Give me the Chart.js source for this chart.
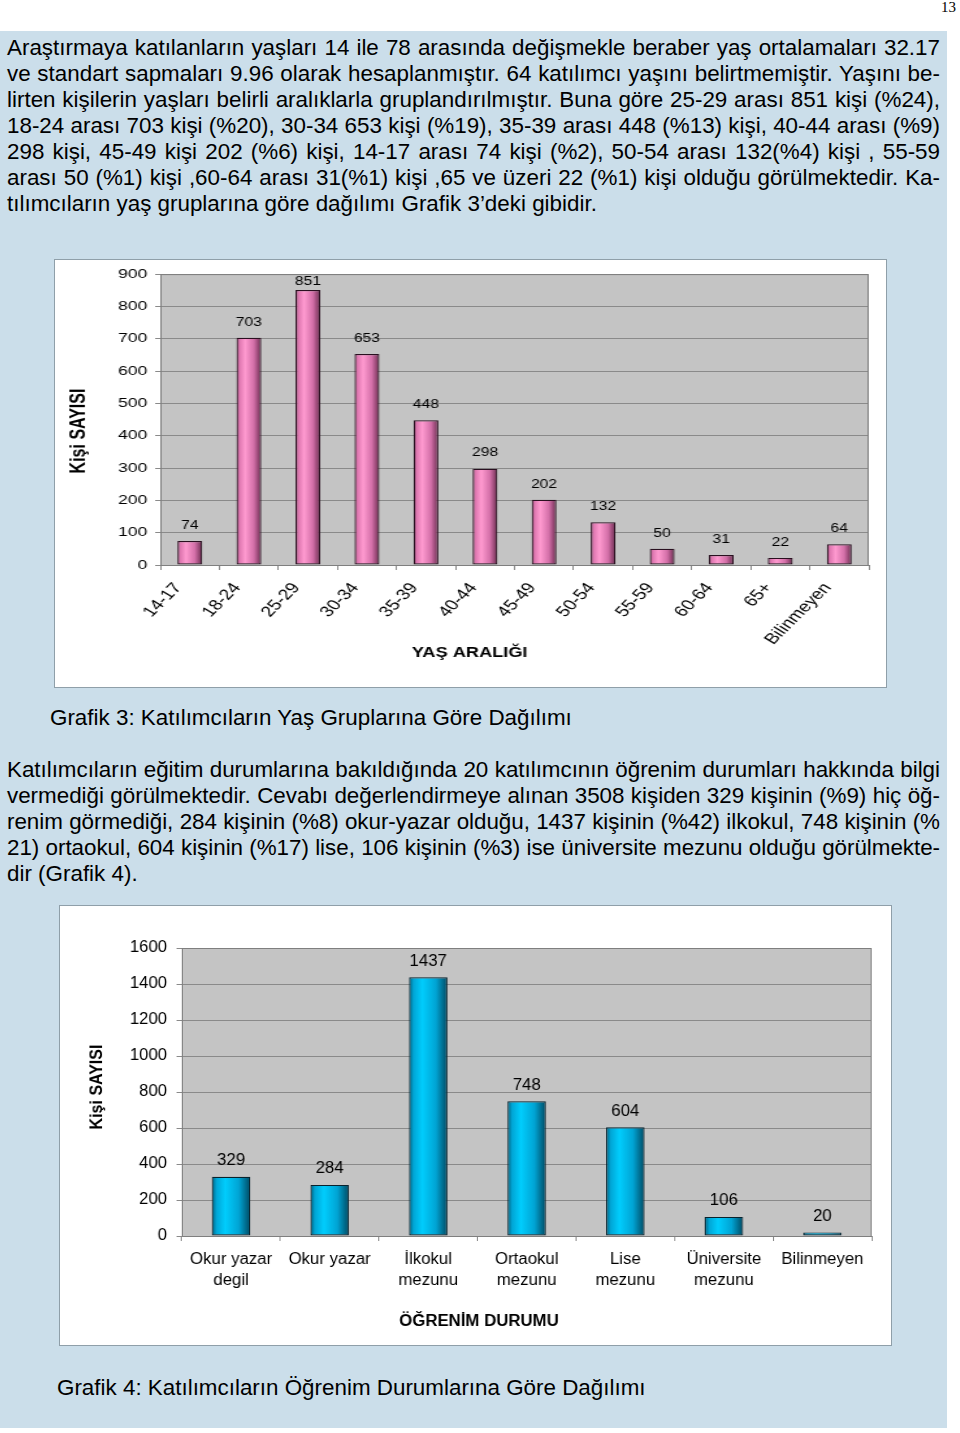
<!DOCTYPE html>
<html lang="tr">
<head>
<meta charset="utf-8">
<title>Grafik 3 ve Grafik 4</title>
<script src="https://cdn.jsdelivr.net/npm/chart.js@4.4.0/dist/chart.umd.min.js"></script>
<style>
  html, body { margin: 0; padding: 0; background: #fff; }
  body { width: 960px; height: 1433px; position: relative; overflow: hidden;
         font-family: "Liberation Sans", Arial, sans-serif; color: #000; }
  .pageNo { position: absolute; left: 941px; top: -1px; font-family: "Liberation Serif", serif; font-size: 15px; }
  .panel { position: absolute; left: 0; top: 31px; width: 947px; height: 1397px; background: #cbdeea; }
  .txt { position: absolute; left: 7px; width: 933px; font-size: 22.4px; line-height: 26px; }
  .txt div { text-align: justify; text-align-last: justify; white-space: nowrap; }
  .txt div.last { text-align-last: left; }
  .cap { position: absolute; font-size: 22.4px; line-height: 26px; white-space: nowrap; }
  .box { position: absolute; background: #fff; border: 1px solid #8f9fa9; }
  canvas { position: absolute; transform-origin: 0 0; }
  #meter { position: absolute; left: -2000px; top: 0; white-space: nowrap; font-size: 22.4px; }
</style>
</head>
<body>
<div class="pageNo">13</div>
<div class="panel"></div>

<div class="txt" style="top:35px">
  <div>Araştırmaya katılanların yaşları 14 ile 78 arasında değişmekle beraber yaş ortalamaları 32.17</div>
  <div>ve standart sapmaları 9.96 olarak hesaplanmıştır. 64 katılımcı yaşını belirtmemiştir. Yaşını be-</div>
  <div>lirten kişilerin yaşları belirli aralıklarla gruplandırılmıştır. Buna göre 25-29 arası 851 kişi (%24),</div>
  <div>18-24 arası 703 kişi (%20), 30-34 653 kişi (%19), 35-39 arası 448 (%13) kişi, 40-44 arası (%9)</div>
  <div>298 kişi, 45-49 kişi 202 (%6) kişi, 14-17 arası 74 kişi (%2), 50-54 arası 132(%4) kişi , 55-59</div>
  <div>arası 50 (%1) kişi ,60-64 arası 31(%1) kişi ,65 ve üzeri 22 (%1) kişi olduğu görülmektedir. Ka-</div>
  <div class="last">tılımcıların yaş gruplarına göre dağılımı Grafik 3’deki gibidir.</div>
</div>

<div class="box" style="left:54px; top:259px; width:831px; height:427px"></div>
<canvas id="ageChart" width="639" height="427" style="left:55px; top:260px; transform:scaleX(1.3)"></canvas>

<div class="cap" style="left:50px; top:705px">Grafik 3: Katılımcıların Yaş Gruplarına Göre Dağılımı</div>

<div class="txt" style="top:757px">
  <div>Katılımcıların eğitim durumlarına bakıldığında 20 katılımcının öğrenim durumları hakkında bilgi</div>
  <div>vermediği görülmektedir. Cevabı değerlendirmeye alınan 3508 kişiden 329 kişinin (%9) hiç öğ-</div>
  <div>renim görmediği, 284 kişinin (%8) okur-yazar olduğu, 1437 kişinin (%42) ilkokul, 748 kişinin (%</div>
  <div>21) ortaokul, 604 kişinin (%17) lise, 106 kişinin (%3) ise üniversite mezunu olduğu görülmekte-</div>
  <div class="last">dir (Grafik 4).</div>
</div>

<div class="box" style="left:59px; top:905px; width:831px; height:439px"></div>
<canvas id="eduChart" width="791" height="439" style="left:60px; top:906px; transform:scaleX(1.05)"></canvas>

<div class="cap" style="left:57px; top:1375px">Grafik 4: Katılımcıların Öğrenim Durumlarına Göre Dağılımı</div>
<span id="meter"></span>

<script>
'use strict';

// Grafik 3 - age groups
const ageLabels = ['14-17', '18-24', '25-29', '30-34', '35-39', '40-44', '45-49', '50-54', '55-59', '60-64', '65+', 'Bilinmeyen'];
const ageCounts = [74, 703, 851, 653, 448, 298, 202, 132, 50, 31, 22, 64];
const ageAxisMax = 900;
const ageAxisStep = 100;

// Grafik 4 - education
const eduLabels = [['Okur yazar', 'degil'], 'Okur yazar', ['İlkokul', 'mezunu'], ['Ortaokul', 'mezunu'], ['Lise', 'mezunu'], ['Üniversite', 'mezunu'], 'Bilinmeyen'];
const eduCounts = [329, 284, 1437, 748, 604, 106, 20];
const eduAxisMax = 1600;
const eduAxisStep = 200;

const FONT = '"Liberation Sans", Arial, sans-serif';

const pinkStops = [[0, '#93436f'], [0.12, '#de77b0'], [0.35, '#ff9ad0'], [0.7, '#d36fa8'], [1, '#6a2a4e']];
const cyanStops = [[0, '#005f7c'], [0.12, '#00a6d6'], [0.35, '#00cdfd'], [0.7, '#00a4d4'], [1, '#004a63']];

// squeeze justified lines that are a bit too long for the column
function fitLines() {
  const meter = document.getElementById('meter');
  document.querySelectorAll('.txt div:not(.last)').forEach(d => {
    meter.textContent = d.textContent;
    const w = meter.getBoundingClientRect().width;
    const room = 931;
    if (w > room) d.style.letterSpacing = ((room - w) / d.textContent.length).toFixed(3) + 'px';
  });
}
fitLines();

// cylinder-like shading across each bar
function barShade(stops, pct) {
  return function (c) {
    const chart = c.chart;
    const xs = chart.scales.x;
    if (!xs || c.dataIndex === undefined || !chart.chartArea) return stops[2][1];
    const cx = xs.getPixelForValue(c.dataIndex);
    const half = xs.width / chart.data.labels.length * pct / 2;
    if (!isFinite(cx) || !isFinite(half) || half <= 0) return stops[2][1];
    const g = chart.ctx.createLinearGradient(cx - half, 0, cx + half, 0);
    stops.forEach(([o, col]) => g.addColorStop(o, col));
    return g;
  };
}

const plotFrame = {
  id: 'plotFrame',
  beforeDraw(chart, args, opts) {
    const { ctx, chartArea: a } = chart;
    ctx.save();
    ctx.fillStyle = opts.fill;
    ctx.fillRect(a.left, a.top, a.width, a.height);
    ctx.restore();
  },
  beforeDatasetsDraw(chart, args, opts) {
    const { ctx, chartArea: a } = chart;
    ctx.save();
    ctx.strokeStyle = opts.edge;
    ctx.lineWidth = 1;
    ctx.beginPath();
    ctx.moveTo(a.left, a.top + 0.5);
    ctx.lineTo(a.right - 0.5, a.top + 0.5);
    ctx.lineTo(a.right - 0.5, a.bottom);
    ctx.stroke();
    ctx.restore();
  }
};

// value above every bar, kept inside the plot area
const valueLabels = {
  id: 'valueLabels',
  afterDatasetsDraw(chart, args, opts) {
    const { ctx, chartArea } = chart;
    const values = chart.data.datasets[0].data;
    ctx.save();
    ctx.font = opts.size + 'px ' + FONT;
    ctx.fillStyle = '#000';
    ctx.textAlign = 'center';
    ctx.textBaseline = 'middle';
    chart.getDatasetMeta(0).data.forEach((bar, i) => {
      const y = Math.max(bar.y - opts.gap, chartArea.top + opts.size * 0.65);
      ctx.fillText(String(values[i]), bar.x, y);
    });
    ctx.restore();
  }
};

const axisNotes = {
  id: 'axisNotes',
  afterDraw(chart, args, opts) {
    const { ctx } = chart;
    opts.items.forEach(it => {
      ctx.save();
      ctx.translate(it.x, it.y);
      ctx.rotate(it.rot || 0);
      ctx.font = 'bold ' + it.size + 'px ' + FONT;
      ctx.fillStyle = '#000';
      ctx.textAlign = 'center';
      ctx.textBaseline = 'middle';
      ctx.fillText(it.text, 0, 0);
      ctx.restore();
    });
  }
};

function makeChart(id, cfg) {
  return new Chart(document.getElementById(id), {
    type: 'bar',
    data: {
      labels: cfg.labels,
      datasets: [{
        data: cfg.values,
        backgroundColor: barShade(cfg.stops, cfg.barPct),
        borderColor: cfg.edge,
        borderWidth: 1.2,
        borderSkipped: false,
        barPercentage: cfg.barPct,
        categoryPercentage: 1
      }]
    },
    options: {
      responsive: false,
      animation: false,
      devicePixelRatio: 1,
      layout: { padding: cfg.padding },
      plugins: {
        legend: { display: false },
        tooltip: { enabled: false },
        plotFrame: { fill: '#c4c4c4', edge: '#7f7f7f' },
        valueLabels: { size: cfg.valueSize, gap: cfg.valueGap },
        axisNotes: { items: cfg.notes }
      },
      scales: {
        x: {
          grid: { drawOnChartArea: false, drawTicks: true, tickLength: 5, color: '#8a8a8a', offset: true },
          border: { color: '#7f7f7f' },
          ticks: {
            autoSkip: false,
            minRotation: cfg.rot, maxRotation: cfg.rot,
            padding: cfg.xPad, labelOffset: cfg.xShift,
            color: '#000', font: { family: FONT, size: cfg.xSize, lineHeight: 1.3 }
          },
          afterFit: s => { s.height = cfg.xHeight; }
        },
        y: {
          min: 0, max: cfg.max,
          grid: { color: '#8a8a8a', tickLength: cfg.yTick },
          border: { color: '#7f7f7f' },
          ticks: {
            stepSize: cfg.step, padding: cfg.yPad, color: '#000',
            font: { family: FONT, size: cfg.ySize },
            callback: v => String(v)
          },
          afterFit: s => { s.width = cfg.yWidth; }
        }
      }
    },
    plugins: [plotFrame, valueLabels, axisNotes]
  });
}

makeChart('ageChart', {
  labels: ageLabels, values: ageCounts, max: ageAxisMax, step: ageAxisStep,
  stops: pinkStops, edge: '#2a1020', barPct: 0.42,
  padding: { left: 0, right: 13, top: 13, bottom: 0 },
  yWidth: 81, xHeight: 122, yTick: 4, yPad: 6, ySize: 13.5,
  rot: 52, xPad: 9, xShift: -9, xSize: 15,
  valueSize: 12, valueGap: 15.5,
  notes: [
    { text: 'Kişi SAYISI', x: 19, y: 171, rot: -Math.PI / 2, size: 16 },
    { text: 'YAŞ ARALIĞI', x: 319, y: 393, size: 14 }
  ]
});

makeChart('eduChart', {
  labels: eduLabels, values: eduCounts, max: eduAxisMax, step: eduAxisStep,
  stops: cyanStops, edge: '#08232e', barPct: 0.39,
  padding: { left: 0, right: 18, top: 42, bottom: 0 },
  yWidth: 116, xHeight: 109, yTick: 5, yPad: 9, ySize: 16,
  rot: 0, xPad: 8, xShift: 0, xSize: 16,
  valueSize: 16, valueGap: 16,
  notes: [
    { text: 'Kişi SAYISI', x: 36, y: 181, rot: -Math.PI / 2, size: 16 },
    { text: 'ÖĞRENİM DURUMU', x: 399, y: 416, size: 16 }
  ]
});
</script>
</body>
</html>
